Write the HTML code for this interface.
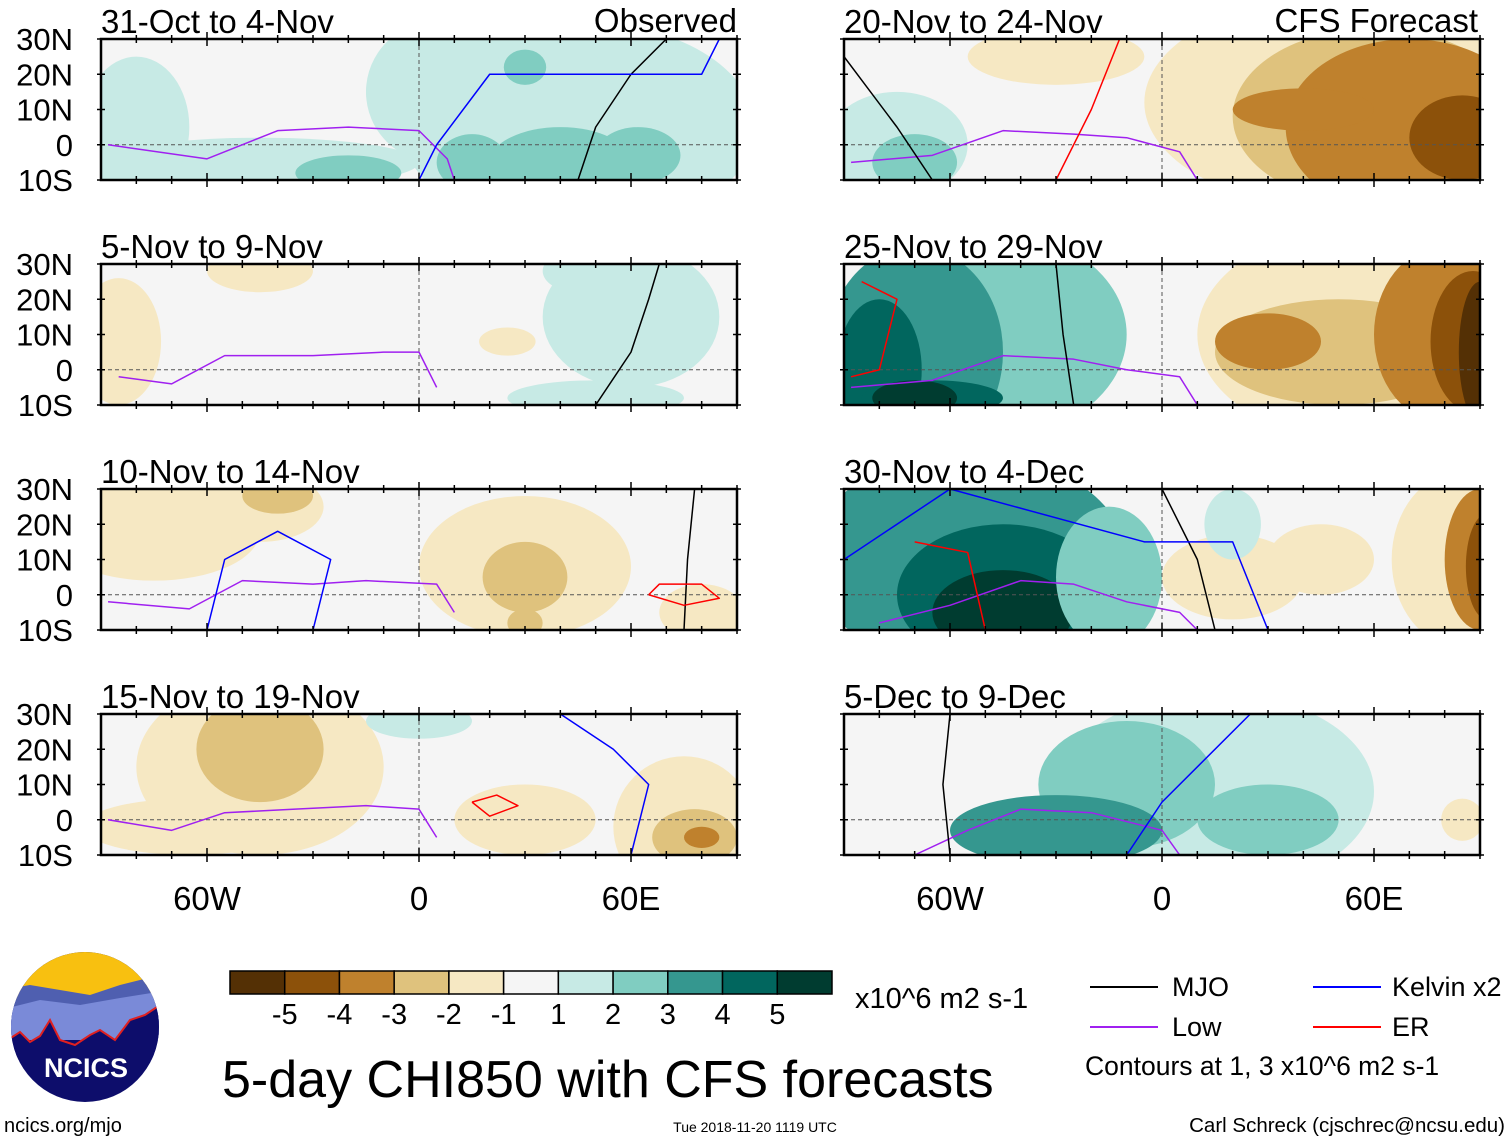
<!DOCTYPE html>
<html><head><meta charset="utf-8"><style>
html,body{margin:0;padding:0;background:#fff;}
svg{display:block;font-family:"Liberation Sans",Arial,sans-serif;}
</style></head><body>
<svg id="fig" width="1510" height="1142" viewBox="0 0 1510 1142"></svg>
<script>
// ---- data ----
const panelTitles = ["31-Oct to 4-Nov","5-Nov to 9-Nov","10-Nov to 14-Nov","15-Nov to 19-Nov","20-Nov to 24-Nov","25-Nov to 29-Nov","30-Nov to 4-Dec","5-Dec to 9-Dec"];
const latTicks = [30,20,10,0,-10];
const latLabels = ["30N","20N","10N","0","10S"];
const lonTicks = [-60,0,60];
const lonLabels = ["60W","0","60E"];
const cbLevels = ["-5","-4","-3","-2","-1","1","2","3","4","5"];
const cbColors = ["#543005","#8c510a","#bf812d","#dfc27d","#f6e8c3","#f5f5f5","#c7eae5","#80cdc1","#35978f","#01665e","#003c30"];
// blobs: [lon, lat, radiusLon, radiusLat, value]
const blobs0 = [[45,5,50,30,1.5],[20,15,35,20,1.5],[5,15,20,20,1.5],[-45,-5,45,7,1.5],[-80,5,15,20,1.5],[40,-5,20,10,2.5],[15,-5,10,8,2.5],[-20,-8,15,5,2.5],[62,-3,12,8,2.5],[30,22,6,5,2.5]];
const blobs1 = [[-85,8,12,18,-1.5],[-45,28,15,6,-1.5],[60,15,25,20,1.5],[45,28,10,6,1.5],[50,-8,25,5,1.5],[25,8,8,4,-1.5]];
const blobs2 = [[-75,18,30,14,-1.5],[-45,25,18,10,-1.5],[-40,28,10,5,-2.5],[30,8,30,20,-1.5],[30,5,12,10,-2.5],[30,-8,5,4,-2.5],[80,-5,12,8,-1.5]];
const blobs3 = [[-45,15,35,25,-1.5],[-45,20,18,15,-2.5],[-65,-2,30,8,-1.5],[75,-2,20,20,-1.5],[78,-5,12,8,-2.5],[80,-5,5,3,-3.5],[0,28,15,5,1.5],[30,0,20,10,-1.5]];
const blobs4 = [[50,12,55,30,-1.5],[-30,25,25,8,-1.5],[60,8,40,25,-2.5],[70,5,35,25,-3.5],[85,2,15,12,-4.5],[40,10,20,6,-3.5],[-75,0,20,15,1.5],[-70,-5,12,8,2.5]];
const blobs5 = [[-50,10,40,30,2],[-70,5,25,30,3],[-80,0,12,20,4],[-65,-8,20,5,4.5],[-70,-8,12,5,5.5],[55,10,45,30,-1.5],[50,5,35,15,-2.5],[80,10,20,25,-3.5],[30,8,15,8,-3.5],[88,8,12,20,-4.5],[90,5,6,20,-5.5]];
const blobs6 = [[-55,10,45,30,3],[-45,0,30,20,4],[-45,-5,20,12,5],[-15,5,15,20,2],[85,10,20,25,-2],[90,10,10,20,-3.5],[92,8,6,15,-4.5],[45,10,15,10,-1.5],[20,5,20,12,-1.5],[20,20,8,10,1.5]];
const blobs7 = [[15,8,45,28,1.5],[-10,10,25,18,2.5],[-30,-3,30,10,3],[30,0,20,10,2.5],[85,0,6,6,-1.5]];
const panelBlobs = [blobs0,blobs1,blobs2,blobs3,blobs4,blobs5,blobs6,blobs7];
// contour lines
const lowLine0 = [[-88,0],[-60,-4],[-40,4],[-20,5],[0,4],[8,-4],[10,-10]];
const lowLine1 = [[-85,-2],[-70,-4],[-55,4],[-30,4],[-10,5],[0,5],[5,-5]];
const lowLine2 = [[-88,-2],[-65,-4],[-50,4],[-30,3],[-15,4],[5,3],[10,-5]];
const lowLine3 = [[-88,0],[-70,-3],[-55,2],[-35,3],[-15,4],[0,3],[5,-5]];
const lowLine4 = [[-88,-5],[-65,-3],[-45,4],[-25,3],[-10,2],[5,-2],[10,-10]];
const lowLine5 = [[-88,-5],[-65,-3],[-45,4],[-25,3],[-10,0],[5,-2],[10,-10]];
const lowLine6 = [[-80,-8],[-60,-3],[-40,4],[-25,3],[-10,-2],[5,-5],[10,-10]];
const lowLine7 = [[-70,-10],[-55,-3],[-40,3],[-20,2],[0,-3],[5,-10]];
const mjoLine0 = [[45,-10],[50,5],[60,20],[70,30]];
const mjoLine1 = [[50,-10],[60,5],[65,20],[68,30]];
const mjoLine2 = [[75,-10],[76,10],[78,30]];
const mjoLine4 = [[-90,25],[-75,5],[-65,-10]];
const mjoLine5 = [[-30,30],[-28,10],[-25,-10]];
const mjoLine6 = [[0,30],[10,10],[15,-10]];
const mjoLine7 = [[-60,30],[-62,10],[-60,-10]];
const kelLine0 = [[0,-10],[5,0],[20,20],[50,20],[80,20],[85,30]];
const kelLine2 = [[-60,-10],[-55,10],[-40,18],[-25,10],[-30,-10]];
const kelLine3 = [[40,30],[55,20],[65,10],[60,-10]];
const kelLine6 = [[-90,10],[-60,30],[-5,15],[20,15],[30,-10]];
const kelLine7 = [[-10,-10],[0,5],[25,30]];
const erLine2 = [[65,0],[75,-3],[85,-1],[80,3],[68,3],[65,0]];
const erLine3 = [[15,5],[22,7],[28,4],[20,1],[15,5]];
const erLine4 = [[-30,-10],[-20,10],[-12,30]];
const erLine5 = [[-85,25],[-75,20],[-80,0],[-88,-2]];
const erLine6 = [[-70,15],[-55,12],[-50,-10]];
const contourSets = [
 [[lowLine0,"#a020f0"],[mjoLine0,"#000"],[kelLine0,"#0000ff"]],
 [[lowLine1,"#a020f0"],[mjoLine1,"#000"]],
 [[lowLine2,"#a020f0"],[mjoLine2,"#000"],[kelLine2,"#0000ff"],[erLine2,"#ff0000"]],
 [[lowLine3,"#a020f0"],[kelLine3,"#0000ff"],[erLine3,"#ff0000"]],
 [[lowLine4,"#a020f0"],[mjoLine4,"#000"],[erLine4,"#ff0000"]],
 [[lowLine5,"#a020f0"],[mjoLine5,"#000"],[erLine5,"#ff0000"]],
 [[lowLine6,"#a020f0"],[mjoLine6,"#000"],[kelLine6,"#0000ff"],[erLine6,"#ff0000"]],
 [[lowLine7,"#a020f0"],[mjoLine7,"#000"],[kelLine7,"#0000ff"]]
];
// ---- drawing ----
const NS="http://www.w3.org/2000/svg";
const svg=document.getElementById('fig');
function mk(tag,attrs,parent){const e=document.createElementNS(NS,tag);for(const k in attrs)e.setAttribute(k,attrs[k]);(parent||svg).appendChild(e);return e;}
const colX=[101,844], rowY=[39,264,489,714], PW=636, PH=141;
function colorFor(v){
  const edges=[-5,-4,-3,-2,-1,1,2,3,4,5];
  let i=0;while(i<edges.length&&v>=edges[i])i++;return cbColors[i];
}
panelTitles.forEach((t,p)=>{
  const x0=colX[p<4?0:1], y0=rowY[p%4];
  const xs=lon=>x0+(lon+90)/180*PW;
  const ys=lat=>y0+(30-lat)/40*PH;
  const g=mk('g',{});
  
  
  const cp=mk('clipPath',{id:'cp'+p},g);
  mk('rect',{x:x0,y:y0,width:PW,height:PH},cp);
  mk('rect',{x:x0,y:y0,width:PW,height:PH,fill:'#f5f5f5'},g);
  const fg=mk('g',{'clip-path':'url(#cp'+p+')'},g);
  panelBlobs[p].forEach(b=>{
    const e=mk('ellipse',{cx:xs(b[0]),cy:ys(b[1]),rx:b[2]/180*PW,ry:b[3]/40*PH,fill:colorFor(b[4])},fg);
    
    
  });
  mk('line',{x1:x0,x2:x0+PW,y1:ys(0),y2:ys(0),stroke:'#555','stroke-dasharray':'4,3','stroke-width':1},fg);
  mk('line',{x1:xs(0),x2:xs(0),y1:y0,y2:y0+PH,stroke:'#555','stroke-dasharray':'4,3','stroke-width':1},fg);
  contourSets[p].forEach(c=>{
    const pl=mk('polyline',{points:c[0].map(q=>xs(q[0])+','+ys(q[1])).join(' '),fill:'none',stroke:c[1],'stroke-width':1.5,'stroke-linejoin':'round'},fg);
    
    
  });
  mk('rect',{x:x0,y:y0,width:PW,height:PH,fill:'none',stroke:'#000','stroke-width':2.5},g);
  for(let lon=-80;lon<=90;lon+=10){const L=(lon%60===0)?7:4;
    mk('line',{x1:xs(lon),x2:xs(lon),y1:y0-L,y2:y0+L,stroke:'#000','stroke-width':1.5},g);
    mk('line',{x1:xs(lon),x2:xs(lon),y1:y0+PH-L,y2:y0+PH+L,stroke:'#000','stroke-width':1.5},g);}
  latTicks.forEach((lat,i)=>{
    mk('line',{x1:x0-4,x2:x0+4,y1:ys(lat),y2:ys(lat),stroke:'#000','stroke-width':1.5},g);
    mk('line',{x1:x0+PW-4,x2:x0+PW+4,y1:ys(lat),y2:ys(lat),stroke:'#000','stroke-width':1.5},g);
    if(p<4){const tl=mk('text',{x:73,y:ys(lat)+11,'font-size':31,'text-anchor':'end'},g);tl.textContent=latLabels[i];
      }
  });
  const tt=mk('text',{x:x0,y:y0-6,'font-size':33},g);tt.textContent=t;
  
  if(p%4===3){lonTicks.forEach((lon,i)=>{const tl=mk('text',{x:xs(lon),y:910,'font-size':33,'text-anchor':'middle'},g);tl.textContent=lonLabels[i];
    });}
});
let h=mk('text',{x:737,y:32,'font-size':33,'text-anchor':'end'});h.textContent='Observed';

h=mk('text',{x:1478,y:32,'font-size':33,'text-anchor':'end'});h.textContent='CFS Forecast';

// colorbar
const cb=mk('g',{});
const cw=(832-230)/11;
cbColors.forEach((c,i)=>mk('rect',{x:230+i*cw,y:971,width:cw,height:23,fill:c,stroke:'#000','stroke-width':1.5},cb));
cbLevels.forEach((l,i)=>{const t=mk('text',{x:230+(i+1)*cw,y:1024,'font-size':29,'text-anchor':'middle'},cb);t.textContent=l;});
h=mk('text',{x:855,y:1008,'font-size':29});h.textContent='x10^6 m2 s-1';

// legend
const lg=mk('g',{});
[[1090,987,'#000','MJO',1172],[1313,987,'#0000ff','Kelvin x2',1392],[1090,1027,'#a020f0','Low',1172],[1313,1027,'#ff0000','ER',1392]].forEach(e=>{
  mk('line',{x1:e[0],x2:e[0]+68,y1:e[1],y2:e[1],stroke:e[2],'stroke-width':2},lg);
  const t=mk('text',{x:e[4],y:e[1]+9,'font-size':27},lg);t.textContent=e[3];});
h=mk('text',{x:1085,y:1075,'font-size':26.5});h.textContent='Contours at 1, 3 x10^6 m2 s-1';

h=mk('text',{x:222,y:1097,'font-size':52});h.textContent='5-day CHI850 with CFS forecasts';

h=mk('text',{x:4,y:1132,'font-size':20});h.textContent='ncics.org/mjo';

h=mk('text',{x:755,y:1132,'font-size':14,'text-anchor':'middle'});h.textContent='Tue 2018-11-20 1119 UTC';

h=mk('text',{x:1505,y:1132,'font-size':20.5,'text-anchor':'end'});h.textContent='Carl Schreck (cjschrec@ncsu.edu)';

// logo
const lo=mk('g',{});
const lcp=mk('clipPath',{id:'logoclip'},lo);mk('ellipse',{cx:85,cy:1027,rx:74,ry:75},lcp);
const lgg=mk('g',{'clip-path':'url(#logoclip)'},lo);
mk('rect',{x:0,y:950,width:170,height:160,fill:'#0d0d6b'},lgg);
mk('rect',{x:0,y:950,width:170,height:50,fill:'#f8c010'},lgg);
mk('polygon',{points:'0,990 30,985 60,990 90,995 120,985 160,975 170,990 170,1040 0,1040',fill:'#4f5fb0'},lgg);
mk('polygon',{points:'0,1010 40,1000 80,1005 120,998 170,990 170,1040 0,1040',fill:'#7a8ad8'},lgg);
mk('polygon',{points:'0,1045 20,1032 30,1042 40,1036 50,1020 60,1040 75,1045 90,1035 100,1030 115,1040 130,1020 145,1015 160,1005 170,1000 170,1060 0,1060',fill:'#0d0d6b'},lgg);
mk('polyline',{points:'0,1045 20,1032 30,1042 40,1036 50,1020 60,1040 75,1045 90,1035 100,1030 115,1040 130,1020 145,1015 160,1005',fill:'none',stroke:'#e02020','stroke-width':2},lgg);
h=mk('text',{x:86,y:1077,'font-size':27,'font-weight':'bold','text-anchor':'middle',fill:'#fff'},lgg);h.textContent='NCICS';
</script>
</body></html>
